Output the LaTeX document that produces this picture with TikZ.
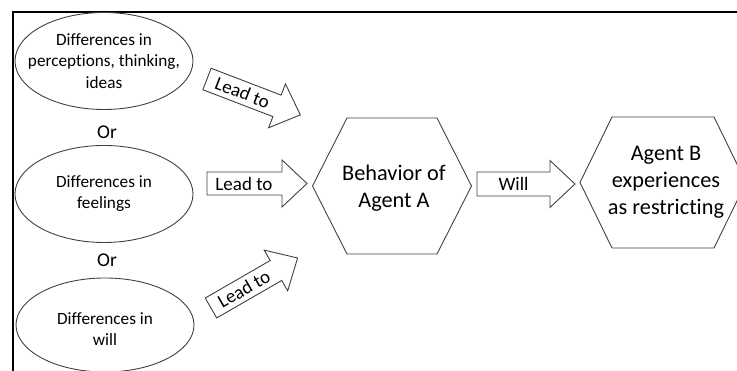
\documentclass[tikz,border=0pt]{standalone}
\usepackage{fontspec}
\setmainfont{Carlito}[Ligatures=NoCommon]
\usetikzlibrary{calc,shapes.geometric}
\tikzset{
  outline/.style={draw=black!75, line width=0.9pt},
  ellbox/.style={outline, ellipse, minimum width=178pt, minimum height=97pt},
  elltext/.style={align=center, font=\fontsize{17.2}{21.5}\selectfont, inner sep=0pt},
  ortext/.style={font=\fontsize{19.5}{23}\selectfont, inner sep=0pt},
  arrowtext/.style={font=\fontsize{19}{23}\selectfont, inner sep=0pt, transform shape},
  hextext/.style={align=center, font=\fontsize{22.3}{27}\selectfont, inner sep=0pt},
  frame/.style={draw=black, line width=1.6pt},
}
\begin{document}
\begin{tikzpicture}[x=1pt,y=1pt]
\useasboundingbox (0,0) rectangle (737,371);
\clip (0,0) rectangle (737,371);
% frame
\draw[frame] (13,0) -- (13,359) -- (737,359);
% ellipses
\node[ellbox] (e1) at (104,310) {};
\node[elltext] (t1) at (104,310) {Differences in\\perceptions, thinking,\\ideas};
\node[ortext] (or1) at (107,239) {Or};
\node[ellbox] (e2) at (104,177) {};
\node[elltext] (t2) at (104,177.5) {Differences in\\feelings};
\node[ellbox, minimum height=94pt] (e3) at (105,46) {};
\node[elltext] (t3) at (105,42) {Differences in\\will};
\node[ortext] (or2) at (107,111) {Or};
% hexagons
\node[hextext] (hA) at (394,182.5) {Behavior of\\Agent A};
\draw[outline] (312.5,185) -- (347,253) -- (437,253) -- (471.5,185) -- (437,117) -- (347,117) -- cycle;
\node[hextext] (hB) at (666,189) {Agent B\\experiences\\as restricting};
\draw[outline] (580,188.5) -- (612,254) -- (714,254) -- (746,188.5) -- (714,123) -- (612,123) -- cycle;
% block arrows
\coordinate (a1) at (207,292);
\coordinate (a2) at (207,187.5);
\coordinate (a3) at (211,63);
\coordinate (a4) at (477,187);
\begin{scope}[shift={(a1)}, rotate=-21]
  \draw[outline] (0,-11.5) -- (75,-11.5) -- (75,-23.5) -- (100,0) -- (75,23.5) -- (75,11.5) -- (0,11.5) -- cycle;
  \node[arrowtext] (l1) at (38,0) {Lead to};
\end{scope}
\begin{scope}[shift={(a2)}]
  \draw[outline] (0,-11.5) -- (75,-11.5) -- (75,-23.5) -- (100,0) -- (75,23.5) -- (75,11.5) -- (0,11.5) -- cycle;
  \node[arrowtext] (l2) at (37,0) {Lead to};
\end{scope}
\begin{scope}[shift={(a3)}, rotate=30]
  \draw[outline] (0,-11.5) -- (75,-11.5) -- (75,-23.5) -- (100,0) -- (75,23.5) -- (75,11.5) -- (0,11.5) -- cycle;
  \node[arrowtext] (l3) at (38,0) {Lead to};
\end{scope}
\begin{scope}[shift={(a4)}]
  \draw[outline] (0,-12) -- (73,-12) -- (73,-23.5) -- (98,0) -- (73,23.5) -- (73,12) -- (0,12) -- cycle;
  \node[arrowtext] (l4) at (36.5,0) {Will};
\end{scope}
\end{tikzpicture}
\end{document}
